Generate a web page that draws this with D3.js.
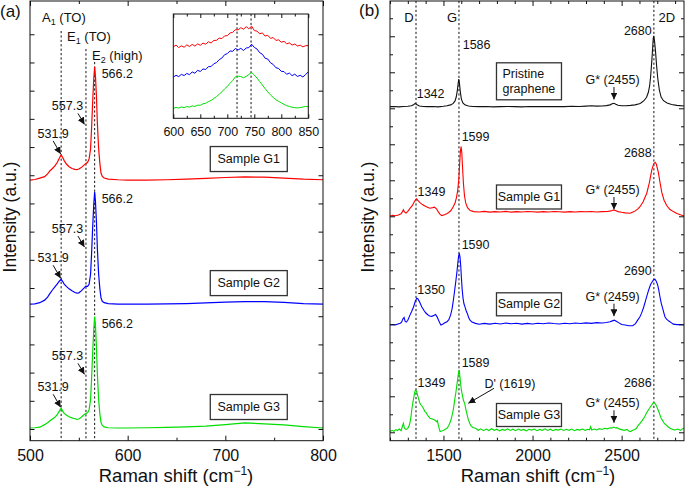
<!DOCTYPE html>
<html><head><meta charset="utf-8">
<script src="https://cdn.jsdelivr.net/npm/d3@7"></script>
<style>
body{margin:0;background:#fff}
svg text{font-family:"Liberation Sans",Arial,Helvetica,sans-serif;fill:#111}
</style></head>
<body><svg id="chart" width="685" height="487"></svg>
<script>
// ---------------- Panel (a) data ----------------
const shiftA = [500,505,510,515,518,520.5,523,525.5,528,530,531.9,533.5,535,537.5,540,543,546,548,550,552.5,555,557.3,559,560.5,562,563,564.2,565.3,566.2,567,568,569,570.3,571.5,572.7,574,576,580,590,600,620,640,660,680,700,720,740,760,780,800];
const sampleG1a = [0,0.2,0.7,1.2,2.2,3.3,4.1,5.0,6.3,7.7,8.9,8.0,6.9,5.6,4.7,4.1,3.8,3.7,3.9,4.4,5.2,5.9,6.3,7.5,11,18,28,36,40.2,37,30,20,11,6,2.5,1.3,0.7,0.3,0.1,0,0,0.1,0.3,0.6,0.9,1.1,1.0,0.7,0.3,0.1];
const sampleG2a = [0,0.1,0.5,1.4,2.5,3.8,5.0,6.1,7.2,8.1,8.8,8.0,7.1,6.2,5.4,4.7,4.1,3.9,4.0,4.7,5.6,6.4,6.3,7.0,10.5,17.5,27.5,35.5,39.7,36.5,29.5,19.5,10.5,5.5,2.2,1.0,0.5,0.2,0,0,0,0.1,0.2,0.4,0.7,0.9,0.9,0.6,0.2,0];
const sampleG3a = [0,0.1,0.3,1.2,1.9,2.6,3.2,3.8,4.8,6.0,7.0,6.0,5.2,4.5,4.0,3.6,3.3,3.1,3.2,3.8,4.6,5.2,5.4,6.5,10,17,27,35,39.5,36.5,29,19,10,5,2,0.9,0.4,0.1,0,0,0.1,0.2,0.4,0.7,1.2,1.8,1.5,1.1,0.5,0];
const offsetsA = [88.3,44.3,0.35];
const colorsA = ["#ff0000","#0000ff","#00dd00"];
const samplesA = ["Sample G1","Sample G2","Sample G3"];
const modeShifts = [531.9,557.3,566.2];
const modeNames = [["A","1"," (TO)"],["E","1"," (TO)"],["E","2"," (high)"]];
const xTicksA = [500,600,700,800];
const xMinorA = [550,650,750];
const yTicksA = [0,10,20,30,40,50,60,70,80,90,100,110,120,130,140];

// inset
const insetShift = [600,605,610,615,620,625,630,635,640,645,650,655,660,665,670,675,680,685,690,695,700,705,710,715,720,725,730,735,740,745,750,755,760,765,770,775,780,785,790,795,800,805,810,815,820,825,830,835,840,845,850];
const insetG1 = [68.5,70.2,67.8,69.5,68.1,70.4,68.8,70.9,69.2,71.3,70.0,72.1,71.0,73.4,72.2,74.6,74.8,76.9,76.4,79.0,79.2,81.8,82.4,85.0,84.8,86.9,85.4,87.8,85.9,88.4,84.1,83.6,81.0,81.9,78.8,79.6,76.6,77.4,74.7,75.2,72.9,73.8,71.4,72.3,70.2,71.2,69.3,70.1,68.5,69.6,69.8];
const insetG2 = [39.5,41.2,40.0,42.1,41.0,43.0,41.8,44.5,43.2,46.0,44.9,47.3,46.8,49.5,49.6,52.3,53.4,56.2,57.8,61.0,62.0,64.6,64.2,67.0,65.5,67.1,65.0,67.4,67.8,71.0,68.0,66.4,62.9,61.4,57.6,56.8,53.2,51.6,48.5,47.8,45.0,44.8,42.2,43.4,40.9,42.3,40.1,41.2,39.6,42.0,44.5];
const insetG3 = [9.5,10.4,9.8,10.9,10.3,11.2,10.8,11.9,11.4,12.6,12.5,13.9,14.4,16.0,17.1,19.0,20.8,23.1,25.4,28.2,30.5,33.6,36.2,39.8,40.4,40.0,38.9,40.2,42.0,44.0,41.5,38.6,35.2,32.0,28.4,25.3,22.4,20.0,17.8,16.2,14.9,13.3,12.1,11.4,10.6,10.2,10.0,10.3,10.8,11.4,11.0];
const insetLines = [718,744];
const insetTicks = [600,650,700,750,800,850];
const insetMinor = [625,675,725,775,825];

// ---------------- Panel (b) data ----------------
const pristineShift = [1200,1225,1250,1275,1300,1320,1332,1342,1352,1365,1385,1410,1440,1470,1500,1520,1540,1555,1565,1572,1578,1582,1586,1590,1594,1600,1608,1620,1640,1665,1700,1740,1780,1820,1860,1900,1940,1980,2020,2060,2100,2140,2180,2220,2260,2300,2330,2360,2390,2415,2435,2447,2457,2467,2480,2500,2525,2550,2575,2600,2610,2625,2640,2650,2657,2663,2669,2674,2677,2680,2684,2690,2696,2703,2712,2722,2735,2755,2780,2810,2850];
const pristineInt = [0.0,0.1,-0.1,0.1,0.2,0.5,1.1,1.8,1.0,0.4,0.1,0.0,0.1,-0.1,0.2,0.5,1.0,1.8,3.2,5.5,9.0,12.5,15.3,12.8,8.8,4.5,2.2,1.0,0.4,0.1,0.0,0.1,-0.1,0.0,0.1,0.0,-0.1,0.1,0.0,0.1,0.0,0.1,0.0,0.2,0.1,0.3,0.5,0.3,0.4,0.6,1.0,1.6,1.9,1.4,0.8,0.5,0.5,0.7,1.0,1.6,2.2,3.3,5.2,8,11.5,17,25,32.5,37.5,39.4,37,31,23,15.5,9,5.2,3.3,2.0,1.2,0.7,0.4];
const g1Shift = [1200,1215,1230,1247,1262,1270,1275,1281,1290,1300,1312,1325,1337,1345,1350,1356,1368,1382,1396,1410,1424,1440,1450,1462,1470,1480,1490,1505,1518,1530,1542,1555,1565,1573,1580,1586,1591,1595,1599,1603,1607,1612,1618,1625,1635,1650,1670,1700,1730,1760,1790,1820,1850,1880,1910,1940,1970,2000,2030,2060,2090,2120,2150,2180,2210,2240,2270,2300,2330,2360,2390,2420,2440,2450,2457,2465,2480,2500,2520,2547,2570,2590,2603,2620,2641,2655,2669,2680,2688,2695,2706,2716,2725,2738,2753,2770,2790,2810,2830,2850];
const g1Int = [-2.2,-1.9,-2.1,-1.7,-1.0,0.2,1.2,0.0,-0.6,0.3,2.0,3.5,5.8,7.0,7.3,6.4,5.2,4.1,3.3,2.6,2.1,2.4,2.7,1.6,0.2,-1.2,-2.0,-1.6,-1.0,-0.3,0.8,2.9,5,8,12,18,27,33.5,36.3,33,25,16,9,5,2.4,0.8,0.2,0.0,0.3,-0.1,0.2,0.0,0.3,-0.1,0.2,0.0,0.3,0.1,-0.1,0.2,0.0,0.3,0.1,-0.1,0.2,0.0,0.2,0.1,0.3,0.0,0.2,0.3,0.6,1.0,1.1,0.8,0.2,-0.2,-0.5,-0.7,0.2,1.6,2.9,5.5,10.4,16,23.3,26.8,27.6,26.5,22,16,11,6.5,3.6,1.5,0.2,-0.8,-1.6,-2.2];
const g2Shift = [1200,1215,1230,1245,1258,1265,1272,1279,1285,1292,1300,1312,1322,1332,1342,1350,1356,1365,1378,1390,1400,1412,1422,1435,1448,1456,1465,1472,1478,1486,1495,1508,1520,1530,1540,1548,1555,1563,1570,1576,1581,1585,1589,1593,1597,1601,1605,1610,1615,1621,1628,1635,1642,1649,1660,1680,1700,1730,1760,1790,1820,1850,1880,1910,1940,1970,2000,2030,2060,2090,2120,2150,2180,2210,2240,2270,2300,2330,2360,2390,2415,2435,2448,2459,2470,2485,2500,2520,2540,2562,2578,2590,2602,2612,2624,2635,2645,2655,2663,2670,2678,2687,2695,2702,2708,2715,2722,2730,2737,2743,2752,2765,2780,2790,2810,2830,2850];
const g2Int = [-0.8,-0.5,-0.7,-0.2,0.2,0.8,2.5,3.4,1.2,0.8,1.8,4.7,6.8,9.2,12.4,14.1,13.8,12.2,9.3,7.4,6.0,4.9,4.2,4.0,4.6,5.0,3.6,2.0,0.6,-0.8,-0.4,0.4,1.0,2.2,4.7,8,12.5,18.5,24,29,34,37.5,39,37,32,25,19,14,11,9.3,7,5.3,3.2,1.9,0.8,0.1,-0.4,0.1,-0.3,0.2,-0.2,0.3,-0.1,0.2,-0.3,0.1,-0.2,0.2,-0.1,0.3,0.0,-0.2,0.2,-0.1,0.3,0.0,0.4,0.1,0.5,0.3,0.6,1.0,1.5,1.9,1.3,0.4,-0.5,-0.8,-1.2,-1.2,0.0,1.9,3.6,5.8,9.2,13,16.5,19.6,21.8,23,24.2,24.6,23.4,21.5,18.8,14.9,11.4,8.6,6,3.8,2.5,1.4,0.4,-0.3,-0.6,-0.5,-0.8];
const g3Shift = [1200,1212,1222,1232,1242,1252,1262,1268,1275,1281,1290,1300,1306,1312,1318,1322,1328,1335,1340,1344,1348,1352,1358,1363,1368,1376,1385,1396,1403,1410,1417,1424,1433,1445,1453,1462,1466,1470,1476,1481,1490,1500,1510,1520,1530,1540,1548,1555,1560,1565,1570,1574,1578,1582,1586,1589,1592,1596,1600,1604,1608,1612,1616,1619,1623,1628,1634,1640,1648,1655,1665,1680,1695,1710,1725,1740,1755,1770,1785,1800,1815,1830,1845,1860,1875,1890,1905,1920,1935,1950,1965,1980,1995,2010,2025,2040,2055,2070,2085,2100,2115,2130,2145,2160,2175,2190,2205,2220,2235,2250,2265,2280,2295,2310,2320,2326,2332,2345,2360,2375,2390,2405,2420,2435,2445,2455,2465,2475,2485,2500,2515,2530,2540,2550,2560,2572,2582,2592,2603,2615,2630,2640,2650,2660,2670,2677,2682,2688,2695,2703,2710,2715,2722,2730,2737,2743,2750,2760,2770,2780,2790,2800,2815,2830,2840,2850];
const g3Int = [-0.9,-0.2,-0.8,0.2,-0.3,0.5,-0.4,1.5,3.7,1.0,0.2,0.9,2.0,4.0,7.5,11.1,15,18.9,21.5,22.2,21.6,20.5,18.2,16.5,14.8,13.6,12.5,10.2,9.6,8.3,7.4,6.5,6.2,5.8,5.4,4.6,5.2,3.2,0.9,-0.9,-0.6,-0.3,0.4,0.9,2.5,5.0,7.8,11.1,14.5,18,21,24,27,30,32.5,33.3,30,26,22.5,20.4,18.5,16.5,15.5,14.8,12.8,10.5,8,5.6,3.6,2.2,1.4,0.9,-0.2,0.6,-0.4,0.5,-0.3,0.7,-0.2,0.4,-0.5,0.3,-0.2,0.6,-0.3,0.4,-0.4,0.5,-0.2,0.3,-0.5,0.4,-0.1,0.5,-0.4,0.3,-0.2,0.6,-0.3,0.4,-0.4,0.3,-0.1,0.5,-0.3,0.4,-0.2,0.5,-0.4,0.3,-0.1,0.5,-0.2,0.4,0.1,1.8,0.0,0.5,0.0,0.7,0.3,0.9,0.6,1.2,1.0,1.6,1.1,1.3,0.6,0.2,-0.2,0.3,-0.6,-0.9,-0.3,0.2,0.8,2.4,3.7,5.2,7.5,9.5,11.1,12.6,14,15,15.2,14.6,13.5,11.5,9.8,8.3,6.5,5.2,4.0,3.2,2.8,1.8,1.1,0.5,0.2,0.0,0.5,-0.2,0.6,0.9];
const offsetsB = [180.9,122.4,60.4,1.3];
const colorsB = ["#111111","#ff0000","#0000ff","#00dd00"];
const bandShifts = [1346,1587,2681];
const bandNames = ["D","G","2D"];
const xTicksB = [1500,2000,2500];
const xMinorB = [1200,1300,1400,1600,1700,1800,1900,2100,2200,2300,2400,2600,2700,2800];
const yTicksB = [0,20,40,60,80,100,120,140,160,180,200,220];
const yMinorB = [10,30,50,70,90,110,130,150,170,190,210,230];

// ---------------- drawing ----------------
const svg = d3.select("#chart");
const FONT = "'Liberation Sans',Arial,Helvetica,sans-serif";
const xA = d3.scaleLinear().domain([500,800]).range([30,323]);
const yA = d3.scaleLinear().domain([-4.15,151.8]).range([440.7,1]);
const xI = d3.scaleLinear().domain([600,850]).range([173.3,308.3]);
const yI = d3.scaleLinear().domain([0,100]).range([118.3,14]);
const xB = d3.scaleLinear().domain([1200,2850]).range([390,684]);
const yB = d3.scaleLinear().domain([-4.67,239.6]).range([440.7,1]);

const defs = svg.append("defs");
defs.append("marker").attr("id","arr").attr("viewBox","0 0 10 10").attr("refX",10).attr("refY",5)
  .attr("markerWidth",7).attr("markerHeight",7).attr("markerUnits","userSpaceOnUse").attr("orient","auto")
  .append("path").attr("d","M0,0L10,5L0,10z").attr("fill","#111");

function styleAxis(g, size){
  g.select(".domain").remove();
  g.selectAll(".tick line").attr("stroke","#111").attr("stroke-width",1);
  g.selectAll(".tick text").attr("font-family",FONT).attr("font-size",size).attr("fill","#111");
}
function frameAxes(x, y, xMaj, xMin, yMaj, yMin, top, bottom, left, right, lab, majLen, minLen, yLen, yMinLen){
  const gb = svg.append("g").attr("transform",`translate(0,${bottom})`)
    .call(d3.axisBottom(x).tickValues(xMaj).tickSizeInner(-majLen).tickSizeOuter(0).tickPadding(9).tickFormat(lab? d3.format("d"):""));
  styleAxis(gb, lab);
  const gbm = svg.append("g").attr("transform",`translate(0,${bottom})`)
    .call(d3.axisBottom(x).tickValues(xMin).tickSizeInner(-minLen).tickSizeOuter(0).tickFormat(""));
  styleAxis(gbm, lab);
  const gt = svg.append("g").attr("transform",`translate(0,${top})`)
    .call(d3.axisTop(x).tickValues(xMaj).tickSizeInner(-majLen).tickSizeOuter(0).tickFormat(""));
  styleAxis(gt, lab);
  const gtm = svg.append("g").attr("transform",`translate(0,${top})`)
    .call(d3.axisTop(x).tickValues(xMin).tickSizeInner(-minLen).tickSizeOuter(0).tickFormat(""));
  styleAxis(gtm, lab);
  if (yMaj){
    [[d3.axisLeft,left],[d3.axisRight,right]].forEach(([ax,pos])=>{
      const g = svg.append("g").attr("transform",`translate(${pos},0)`)
        .call(ax(y).tickValues(yMaj).tickSizeInner(-yLen).tickSizeOuter(0).tickFormat(""));
      styleAxis(g, lab);
      if (yMin){
        const g2 = svg.append("g").attr("transform",`translate(${pos},0)`)
          .call(ax(y).tickValues(yMin).tickSizeInner(-yMinLen).tickSizeOuter(0).tickFormat(""));
        styleAxis(g2, lab);
      }
    });
  }
  svg.append("rect").attr("x",left).attr("y",top).attr("width",right-left).attr("height",bottom-top)
    .attr("fill","none").attr("stroke","#111").attr("stroke-width",1);
}

function addText(x, y, str, opts={}){
  return svg.append("text").attr("x",x).attr("y",y).attr("font-size",opts.size||12.5)
    .attr("font-family",FONT).attr("text-anchor",opts.anchor||"start").attr("dominant-baseline","central")
    .text(str);
}
function arrow(x1,y1,x2,y2){
  svg.append("line").attr("x1",x1).attr("y1",y1).attr("x2",x2).attr("y2",y2)
    .attr("stroke","#111").attr("stroke-width",1).attr("marker-end","url(#arr)");
}
function labelBox(cx, cy, lines, w, h){
  svg.append("rect").attr("x",cx-w/2).attr("y",cy-h/2).attr("width",w).attr("height",h)
    .attr("fill","#fff").attr("stroke","#333").attr("stroke-width",1.3);
  const lh = 15;
  lines.forEach((t,i)=>{
    addText(lines.length>1? cx-w/2+6 : cx, cy + (i-(lines.length-1)/2)*lh, t, {anchor: lines.length>1?"start":"middle", size:12.5});
  });
}

// ===== Panel (a) =====
const seriesA = [sampleG1a, sampleG2a, sampleG3a];
const lineA = d3.line().x(d=>xA(d[0])).y(d=>yA(d[1]));
const modeTops = [31,49,62];
modeShifts.forEach((m,i)=>{
  svg.append("line").attr("x1",xA(m)).attr("x2",xA(m)).attr("y1",modeTops[i]).attr("y2",440.7)
    .attr("stroke","#111").attr("stroke-width",1).attr("stroke-dasharray","2.2,2.2");
});
seriesA.forEach((s,i)=>{
  const pts = shiftA.map((x,j)=>[x, s[j]+offsetsA[i]]);
  svg.append("path").datum(pts).attr("d",lineA).attr("fill","none").attr("stroke",colorsA[i]).attr("stroke-width",1.2);
});
const modeLabelPos = [[42,17],[67,36],[92,55]];
modeNames.forEach((n,i)=>{
  const t = svg.append("text").attr("x",modeLabelPos[i][0]).attr("y",modeLabelPos[i][1]+4.5)
    .attr("font-family",FONT).attr("font-size",13);
  t.append("tspan").text(n[0]);
  t.append("tspan").text(n[1]).attr("font-size",9).attr("dy",3);
  t.append("tspan").text(n[2]).attr("dy",-3);
});
seriesA.forEach((s,i)=>{
  const top = yA(d3.max(s)+offsetsA[i]);
  addText(xA(566.2)+7, top+7, "566.2");
  const a1 = yA(s[shiftA.indexOf(531.9)]+offsetsA[i]);
  addText(xA(531.9)-8, a1-21, "531.9", {anchor:"middle"});
  arrow(xA(531.9)-8, a1-14, xA(531.9)-0.5, a1-1);
  const e1 = yA(s[shiftA.indexOf(557.3)]+offsetsA[i]);
  addText(xA(557.3)-18.5, e1-57, "557.3", {anchor:"middle"});
  arrow(xA(557.3)-8, e1-50, xA(557.3)-1.5, e1-39);
  labelBox(xA(724), yA(offsetsA[i])-21, [samplesA[i]], 77, 25);
});
frameAxes(xA, yA, xTicksA, xMinorA, yTicksA, null, 1, 440.7, 30, 323, 16, 5, 3, 4.5, 0);

// inset
svg.append("rect").attr("x",173.3).attr("y",14).attr("width",135).attr("height",104.3).attr("fill","#fff");
insetLines.forEach(v=>{
  svg.append("line").attr("x1",xI(v)).attr("x2",xI(v)).attr("y1",14).attr("y2",118.3)
    .attr("stroke","#111").attr("stroke-width",1).attr("stroke-dasharray","2.2,2.2");
});
const lineI = d3.line().x(d=>xI(d[0])).y(d=>yI(d[1]));
[insetG1,insetG2,insetG3].forEach((s,i)=>{
  svg.append("path").datum(insetShift.map((x,j)=>[x,s[j]])).attr("d",lineI)
    .attr("fill","none").attr("stroke",colorsA[i]).attr("stroke-width",1);
});
frameAxes(xI, yI, insetTicks, insetMinor, null, null, 14, 118.3, 173.3, 308.3, 12.5, 4, 2.5, 0, 0);

// ===== Panel (b) =====
bandShifts.forEach(b=>{
  svg.append("line").attr("x1",xB(b)).attr("x2",xB(b)).attr("y1",1).attr("y2",440.7)
    .attr("stroke","#111").attr("stroke-width",1).attr("stroke-dasharray","2.2,2.2");
});
const lineB = d3.line().x(d=>xB(d[0])).y(d=>yB(d[1]));
const seriesB = [[pristineShift,pristineInt],[g1Shift,g1Int],[g2Shift,g2Int],[g3Shift,g3Int]];
seriesB.forEach(([xs,ys],i)=>{
  svg.append("path").datum(xs.map((x,j)=>[x,ys[j]+offsetsB[i]])).attr("d",lineB)
    .attr("fill","none").attr("stroke",colorsB[i]).attr("stroke-width",1.1);
});
addText(xB(1346)-7, 17, "D", {anchor:"middle", size:13});
addText(xB(1587)-7, 17, "G", {anchor:"middle", size:13});
addText(xB(2681)+13, 17, "2D", {anchor:"middle", size:13});

const peakLabelsB = [
  ["1342",1350,"start",187.9],["1586",1608,"start",215.2],["2680",2669,"end",223.1],
  ["1599",1602,"start",163.9],["2688",2669,"end",155.0],["1349",1355,"start",133.7],
  ["1590",1602,"start",104.1],["2690",2669,"end",89.8],["1350",1353,"start",79.1],
  ["1589",1602,"start",38.3],["2686",2669,"end",27.2],["1349",1355,"start",27.2]
];
peakLabelsB.forEach(p=> addText(xB(p[1]), yB(p[3]), p[0], {anchor:p[2]}));
const gStarLabels = ["G* (2455)","G* (2455)","G* (2459)","G* (2455)"];
const gStarY = [80,190,296.7,403.3];
gStarLabels.forEach((t,i)=>{
  addText(xB(2449), gStarY[i], t, {anchor:"middle"});
  arrow(xB(2457), gStarY[i]+7, xB(2457), gStarY[i]+19.5);
});
labelBox(xB(1980), 81.3, ["Pristine","graphene"], 65, 37);
labelBox(xB(1980), 197, ["Sample G1"], 65, 24);
labelBox(xB(1980), 304.3, ["Sample G2"], 65, 23);
labelBox(xB(1980), 415, ["Sample G3"], 65, 23);
addText(xB(1730), 384, "D' (1619)");
arrow(494, 388.3, 468.3, 403.3);
frameAxes(xB, yB, xTicksB, xMinorB, yTicksB, yMinorB, 1, 440.7, 390, 684, 16, 5, 3, 5, 3);

// titles
function xTitle(cx){
  const t = svg.append("text").attr("x",cx).attr("y",482).attr("text-anchor","middle")
    .attr("font-family",FONT).attr("font-size",18.5);
  t.append("tspan").text("Raman shift (cm");
  t.append("tspan").text("\u22121").attr("font-size",12).attr("dy",-7);
  t.append("tspan").text(")").attr("dy",7);
}
xTitle(176); xTitle(538);
function yTitle(cx){
  svg.append("text").attr("transform",`translate(${cx},217) rotate(-90)`).attr("text-anchor","middle")
    .attr("dominant-baseline","central").attr("font-family",FONT).attr("font-size",17.5).text("Intensity (a.u.)");
}
yTitle(10); yTitle(368);
addText(0, 11, "(a)", {size:17});
addText(359, 10, "(b)", {size:17});
</script></body></html>
